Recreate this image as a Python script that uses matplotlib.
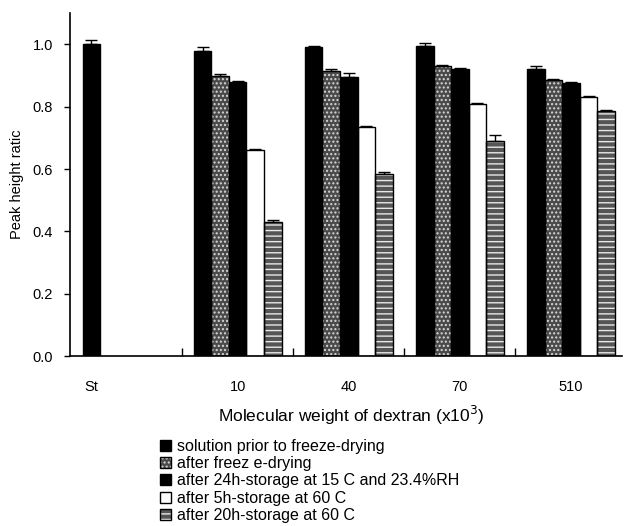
import numpy as np
import matplotlib.pyplot as plt
from matplotlib.patches import Patch

plt.rcParams['font.family'] = ['Liberation Sans', 'DejaVu Sans']

# データ
groups = ['St', '10', '40', '70', '510']
conditions = ['solution prior to freeze-drying',
              'after freez e-drying',
              'after 24h-storage at 15 C and 23.4%RH',
              'after 5h-storage at 60 C',
              'after 20h-storage at 60 C']
# rows = condition, cols = group (St has only the solution bar)
values = [
    [1.00, 0.98, 0.99, 0.995, 0.92],
    [np.nan, 0.90, 0.915, 0.93, 0.885],
    [np.nan, 0.88, 0.895, 0.92, 0.875],
    [np.nan, 0.66, 0.735, 0.81, 0.83],
    [np.nan, 0.43, 0.585, 0.69, 0.785],
]
errors = [
    [0.013, 0.012, 0.005, 0.010, 0.010],
    [np.nan, 0.006, 0.005, 0.004, 0.004],
    [np.nan, 0.003, 0.013, 0.004, 0.005],
    [np.nan, 0.003, 0.003, 0.003, 0.004],
    [np.nan, 0.006, 0.006, 0.018, 0.005],
]

# bar styles: (face, hatch, hatch colour)
styles = [
    ('black', None, 'black'),
    ('#4a4a4a', '....', '#d8d8d8'),
    ('black', None, 'black'),
    ('white', None, 'white'),
    ('#555555', '---', '#e8e8e8'),
]

fig = plt.figure(figsize=(6.24, 5.26), dpi=100)
ax = fig.add_axes([0.112, 0.323, 0.885, 0.652])

x = np.arange(len(groups))
w = 0.158
handles = []
for j, (vals, errs) in enumerate(zip(values, errors)):
    face, hatch, hc = styles[j]
    pos = x + (j - 2) * w
    v = np.array(vals, dtype=float)
    e = np.array(errs, dtype=float)
    ok = ~np.isnan(v)
    ax.bar(pos[ok], v[ok], w, color=face, hatch=hatch, edgecolor=hc, linewidth=0, zorder=2)
    ax.bar(pos[ok], v[ok], w, fill=False, edgecolor='black', linewidth=1.0, zorder=3)
    ax.errorbar(pos[ok], v[ok], yerr=[np.zeros(ok.sum()), e[ok]], fmt='none',
                ecolor='black', elinewidth=1, capsize=4, capthick=1, zorder=1)
    handles.append((Patch(facecolor=face, hatch=hatch, edgecolor=hc, linewidth=0),
                    Patch(fill=False, edgecolor='black', linewidth=1)))

ax.set_ylim(0, 1.1)
ax.set_xlim(-0.51, 4.46)
ax.set_yticks(np.arange(0, 1.01, 0.2))
ax.set_yticklabels([f'{t:.1f}' for t in np.arange(0, 1.01, 0.2)])
ax.tick_params(axis='y', direction='out', length=4, width=1, labelsize=10.5, pad=8)

# St label sits under its single bar
tick_pos = x.astype(float)
tick_pos[0] = x[0] - 2 * w
ax.set_xticks(tick_pos)
ax.set_xticklabels(groups, fontsize=10.5)
ax.tick_params(axis='x', length=0, pad=17)
ax.set_xticks(x[:-1] + 0.5, minor=True)
ax.tick_params(axis='x', which='minor', direction='in', length=6, width=1)

for s in ['top', 'right']:
    ax.spines[s].set_visible(False)
ax.spines['left'].set_linewidth(1.2)
ax.spines['bottom'].set_linewidth(1.2)

ax.set_ylabel('Peak height ratic', fontsize=10.5, labelpad=6)
ax.set_xlabel('Molecular weight of dextran (x10$^3$)', fontsize=12.5)
ax.xaxis.set_label_coords(0.51, -0.14)

fig.legend(handles, conditions, loc='upper left', bbox_to_anchor=(152 / 624, 1 - 431 / 526),
           frameon=False, fontsize=11.5, borderpad=0, handlelength=0.7, handleheight=0.7,
           handletextpad=0.35, labelspacing=0.14)

fig.savefig('out.png', dpi=100)
